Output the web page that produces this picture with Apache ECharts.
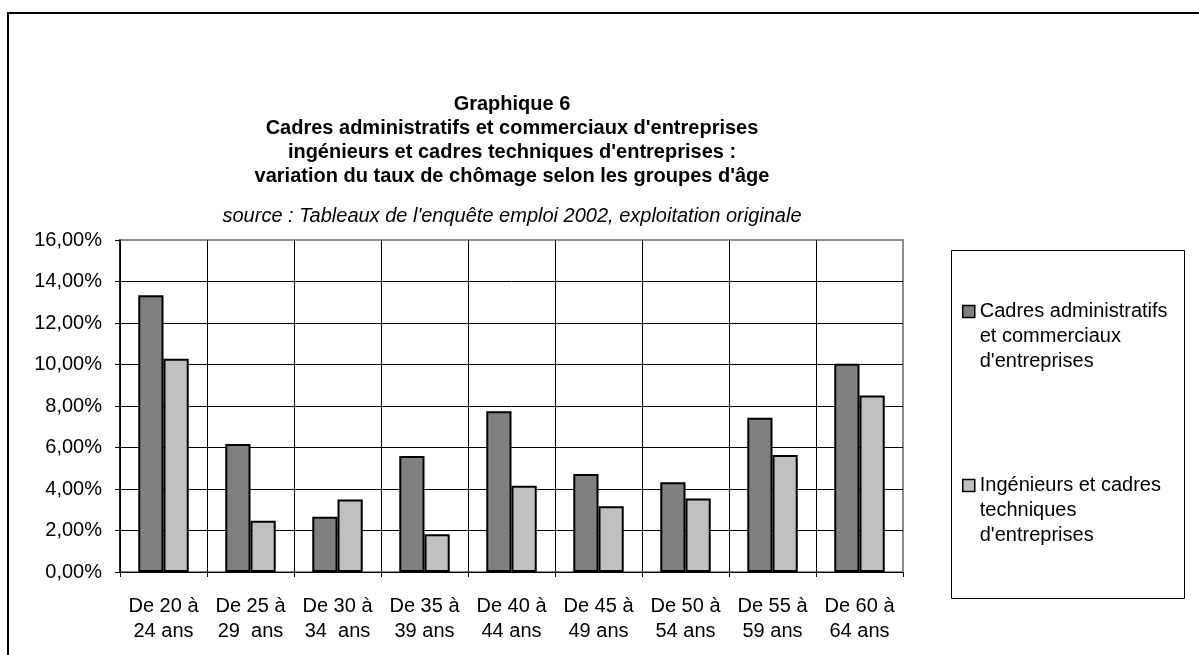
<!DOCTYPE html>
<html>
<head>
<meta charset="utf-8">
<title>Graphique 6</title>
<script src="https://cdn.jsdelivr.net/npm/echarts@6/dist/echarts.min.js"></script>
<style>
  html, body { margin: 0; padding: 0; background: #fff; }
  #chart { width: 1199px; height: 655px; }
</style>
</head>
<body>
<div id="chart"></div>
<script>
// tranches d'âge
const categories = [
  'De 20 à\n24 ans', 'De 25 à\n29  ans', 'De 30 à\n34  ans', 'De 35 à\n39 ans',
  'De 40 à\n44 ans', 'De 45 à\n49 ans', 'De 50 à\n54 ans', 'De 55 à\n59 ans', 'De 60 à\n64 ans'
]
const seriesNames = ['Cadres administratifs et commerciaux d\'entreprises', 'Ingénieurs et cadres techniques d\'entreprises']
// deux lignes vides en tête : le carré de légende se cale sur la 1re ligne de texte
const legendLabels = ['\n\nCadres administratifs\net commerciaux\nd\'entreprises', '\n\nIngénieurs et cadres\ntechniques\nd\'entreprises']
// taux de chômage en %
const cadresAdmin = [13.34, 6.17, 2.66, 5.59, 7.75, 4.72, 4.32, 7.43, 10.04]
const ingenieurs = [10.28, 2.47, 3.50, 1.82, 4.16, 3.17, 3.54, 5.64, 8.51]
const yTicks = [0, 2, 4, 6, 8, 10, 12, 14, 16]

const titleText = [
  'Graphique 6',
  'Cadres administratifs et commerciaux d\'entreprises',
  'ingénieurs et cadres techniques d\'entreprises :',
  'variation du taux de chômage selon les groupes d\'âge'
].join('\n')
const sourceText = 'source : Tableaux de l\'enquête emploi 2002, exploitation originale'

const font = 'Liberation Sans, Arial, sans-serif'
const chart = echarts.init(document.getElementById('chart'))

const option = {
  backgroundColor: '#fff',
  animation: false,
  textStyle: { fontFamily: font },
  title: [
    {
      text: titleText,
      left: 512,
      top: 92,
      padding: 0,
      textAlign: 'center',
      textStyle: { fontFamily: font, fontSize: 20, fontWeight: 'bold', color: '#000', lineHeight: 24 }
    },
    {
      text: sourceText,
      left: 512,
      top: 204,
      padding: 0,
      textAlign: 'center',
      textStyle: { fontFamily: font, fontSize: 20, fontWeight: 'normal', fontStyle: 'italic', color: '#000', lineHeight: 24 }
    }
  ],
  legend: {
    orient: 'vertical',
    left: 962,
    top: 249,
    padding: 0,
    itemWidth: 12,
    itemHeight: 12,
    itemGap: 49,
    icon: 'rect',
    data: seriesNames,
    formatter: name => legendLabels[seriesNames.indexOf(name)],
    itemStyle: { borderColor: '#000', borderWidth: 1.5 },
    textStyle: { fontFamily: font, fontSize: 20, lineHeight: 25, color: '#000' }
  },
  grid: {
    left: 120,
    right: 296,
    top: 240,
    bottom: 83,
    show: true,
    borderColor: '#8c8c8c',
    borderWidth: 2
  },
  xAxis: {
    type: 'category',
    data: categories,
    axisLine: { lineStyle: { color: '#000', width: 1 } },
    axisTick: { show: true, alignWithLabel: false, length: 5, lineStyle: { color: '#000' } },
    splitLine: { show: true, lineStyle: { color: ['#000', '#000', '#000', '#000', '#000', '#000', '#000', '#000', '#000', '#8c8c8c'], width: 1 } },
    axisLabel: { fontFamily: font, fontSize: 20, lineHeight: 25, color: '#000', margin: 22, interval: 0 }
  },
  yAxis: {
    type: 'value',
    min: yTicks[0],
    max: yTicks[yTicks.length - 1],
    interval: 2,
    axisLine: { show: true, lineStyle: { color: '#000', width: 1.5 } },
    axisTick: { show: true, length: 5, lineStyle: { color: '#000' } },
    splitLine: { show: true, lineStyle: { color: ['#000', '#000', '#000', '#000', '#000', '#000', '#000', '#000', '#8c8c8c'], width: 1 } },
    axisLabel: {
      fontFamily: font, fontSize: 20, color: '#000', margin: 18,
      formatter: v => v.toFixed(2).replace('.', ',') + '%'
    }
  },
  series: [
    {
      name: seriesNames[0],
      type: 'bar',
      data: cadresAdmin,
      barGap: '0%',
      barCategoryGap: '42%',
      itemStyle: { color: '#808080', borderColor: '#000', borderWidth: 2 }
    },
    {
      name: seriesNames[1],
      type: 'bar',
      data: ingenieurs,
      barGap: '0%',
      barCategoryGap: '42%',
      itemStyle: { color: '#c0c0c0', borderColor: '#000', borderWidth: 2 }
    }
  ],
  graphic: [
    {
      // cadre extérieur du graphique
      type: 'rect',
      shape: { x: 8, y: 13, width: 1300, height: 700 },
      style: { fill: 'none', stroke: '#000', lineWidth: 2 },
      silent: true
    },
    {
      // cadre de la légende
      type: 'rect',
      shape: { x: 951.5, y: 250.5, width: 233, height: 348 },
      style: { fill: 'none', stroke: '#000', lineWidth: 1 },
      silent: true
    }
  ]
}

chart.setOption(option)
</script>
</body>
</html>
